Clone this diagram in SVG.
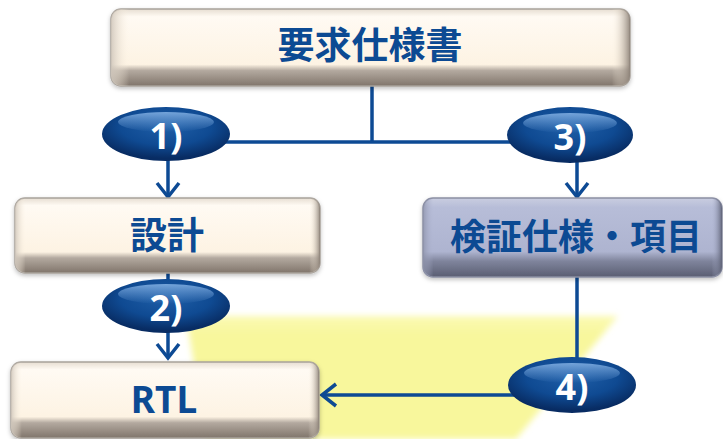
<svg xmlns="http://www.w3.org/2000/svg" width="723" height="439" viewBox="0 0 723 439">
<style>
.lbl{font-family:"Noto Sans CJK JP","Noto Sans",sans-serif;font-weight:bold;fill:#0c4a93;text-anchor:middle;dominant-baseline:central}
.num{font-family:"Noto Sans","Liberation Sans",sans-serif;font-weight:bold;fill:#ffffff;text-anchor:middle;dominant-baseline:central;font-size:36px}
.conn{stroke:#0d4a94;stroke-width:3.5;fill:none}
.edge{stroke:#a8a29b;stroke-width:1.5}
</style>
<defs>
<linearGradient id="cream" x1="0" y1="0" x2="0" y2="1">
<stop offset="0" stop-color="#e6ddd1"/>
<stop offset="0.1" stop-color="#fffaf3"/>
<stop offset="0.72" stop-color="#fdf3e3"/>
<stop offset="0.8" stop-color="#b3a99f"/>
<stop offset="1" stop-color="#80756b"/>
</linearGradient>
<linearGradient id="creamSide" x1="0" y1="0" x2="1" y2="0">
<stop offset="0" stop-color="#cfc6bb" stop-opacity="0.9"/>
<stop offset="0.035" stop-color="#fdf3e3" stop-opacity="0"/>
<stop offset="0.965" stop-color="#fdf3e3" stop-opacity="0"/>
<stop offset="1" stop-color="#8a7f75" stop-opacity="0.9"/>
</linearGradient>
<linearGradient id="lav" x1="0" y1="0" x2="0" y2="1">
<stop offset="0" stop-color="#c9cde0"/>
<stop offset="0.12" stop-color="#b7bdd8"/>
<stop offset="0.68" stop-color="#aeb4d0"/>
<stop offset="0.8" stop-color="#7f849c"/>
<stop offset="1" stop-color="#5a5e72"/>
</linearGradient>
<linearGradient id="lavSide" x1="0" y1="0" x2="1" y2="0">
<stop offset="0" stop-color="#8c91a8" stop-opacity="0.8"/>
<stop offset="0.035" stop-color="#aeb4d0" stop-opacity="0"/>
<stop offset="0.965" stop-color="#aeb4d0" stop-opacity="0"/>
<stop offset="1" stop-color="#5a5e72" stop-opacity="0.9"/>
</linearGradient>
<radialGradient id="oval" cx="0.5" cy="0.35" r="0.6">
<stop offset="0" stop-color="#1f5fa8"/>
<stop offset="0.6" stop-color="#0f4a92"/>
<stop offset="1" stop-color="#082c63"/>
</radialGradient>
<linearGradient id="shine" x1="0" y1="0" x2="0" y2="1">
<stop offset="0" stop-color="#7aa9de" stop-opacity="0.95"/>
<stop offset="1" stop-color="#6d9fd8" stop-opacity="0"/>
</linearGradient>
<linearGradient id="yel" x1="0" y1="0" x2="0" y2="1">
<stop offset="0" stop-color="#f9f8a0" stop-opacity="0.8"/>
<stop offset="0.15" stop-color="#f8f79c"/>
<stop offset="1" stop-color="#f8f79c"/>
</linearGradient>
<filter id="sh" x="-5%" y="-10%" width="110%" height="130%">
<feDropShadow dx="0" dy="2" stdDeviation="2" flood-color="#000" flood-opacity="0.25"/>
</filter>
<filter id="blur" x="-10%" y="-10%" width="120%" height="120%">
<feGaussianBlur stdDeviation="3"/>
</filter>
<marker id="arr" markerUnits="userSpaceOnUse" markerWidth="22" markerHeight="26" viewBox="0 0 22 26" refX="18" refY="13" orient="auto">
<path d="M4,2 L18,13 L4,24" fill="none" stroke="#0d4a94" stroke-width="3.5"/>
</marker>
</defs>

<g id="highlight">
<polygon points="186,316 618,316 516,439 206,439 190,340" fill="url(#yel)" filter="url(#blur)"/>
</g>

<g id="connectors">
<line class="conn" x1="372" y1="86" x2="372" y2="142"/>
<line class="conn" x1="168" y1="142" x2="570" y2="142"/>
<line class="conn" x1="168" y1="158" x2="168" y2="197" marker-end="url(#arr)"/>
<line class="conn" x1="168" y1="272" x2="168" y2="358" marker-end="url(#arr)"/>
<line class="conn" x1="577" y1="160" x2="577" y2="197" marker-end="url(#arr)"/>
<line class="conn" x1="577" y1="277" x2="577" y2="385"/>
<line class="conn" x1="560" y1="395" x2="322" y2="395" marker-end="url(#arr)"/>
</g>

<g id="req">
<rect x="111" y="9" width="519" height="77" rx="10" fill="url(#cream)" class="edge" filter="url(#sh)"/>
<rect x="111" y="9" width="519" height="77" rx="10" fill="url(#creamSide)"/>
<text class="lbl" x="370" y="43" font-size="37">要求仕様書</text>
</g>

<g id="design">
<rect x="15" y="198" width="305" height="75" rx="10" fill="url(#cream)" class="edge" filter="url(#sh)"/>
<rect x="15" y="198" width="305" height="75" rx="10" fill="url(#creamSide)"/>
<text class="lbl" x="167" y="233" font-size="37">設計</text>
</g>

<g id="verif">
<rect x="423" y="198" width="299" height="79" rx="10" fill="url(#lav)" stroke="#8a8ea3" stroke-width="1.5" filter="url(#sh)"/>
<rect x="423" y="198" width="299" height="79" rx="10" fill="url(#lavSide)"/>
<text class="lbl" x="576" y="234" font-size="36">検証仕様・項目</text>
</g>

<g id="rtl">
<rect x="11" y="362" width="308" height="76" rx="10" fill="url(#cream)" class="edge" filter="url(#sh)"/>
<rect x="11" y="362" width="308" height="76" rx="10" fill="url(#creamSide)"/>
<text class="lbl" x="164" y="398" font-size="37" style="font-family:'Noto Sans','Liberation Sans',sans-serif">RTL</text>
</g>

<g id="step1">
<ellipse cx="166" cy="134" rx="64" ry="27" fill="url(#oval)"/>
<ellipse cx="166" cy="122" rx="48" ry="10" fill="url(#shine)"/>
<text class="num" x="166" y="135">1)</text>
</g>
<g id="step2">
<ellipse cx="166" cy="306" rx="64" ry="27" fill="url(#oval)"/>
<ellipse cx="166" cy="294" rx="48" ry="10" fill="url(#shine)"/>
<text class="num" x="166" y="307">2)</text>
</g>
<g id="step3">
<ellipse cx="570" cy="135" rx="63" ry="28" fill="url(#oval)"/>
<ellipse cx="570" cy="123" rx="47" ry="10" fill="url(#shine)"/>
<text class="num" x="570" y="136">3)</text>
</g>
<g id="step4">
<ellipse cx="572" cy="385" rx="64" ry="28" fill="url(#oval)"/>
<ellipse cx="572" cy="373" rx="48" ry="10" fill="url(#shine)"/>
<text class="num" x="572" y="386">4)</text>
</g>
</svg>
